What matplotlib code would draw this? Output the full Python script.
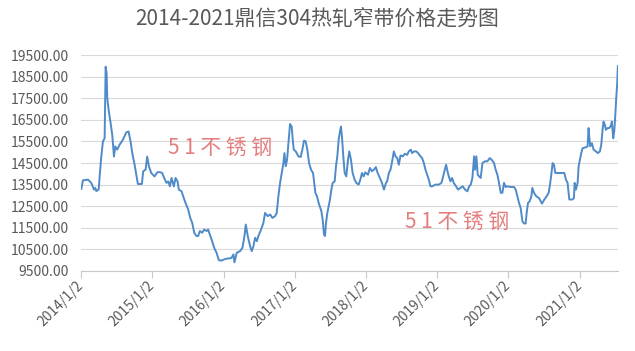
import matplotlib
matplotlib.use('Agg')
import matplotlib.pyplot as plt
import pandas as pd

plt.rcParams['font.family'] = ['Noto Sans CJK SC', 'DejaVu Sans']

# time in years since 2014/1/2, price in yuan/ton
years = [
    0.000, 0.024, 0.094, 0.141, 0.178, 0.197, 0.211, 0.244, 0.258, 0.281, 0.304, 0.328,
    0.342, 0.356, 0.365, 0.384, 0.412, 0.435, 0.459, 0.477, 0.505, 0.538, 0.585, 0.632,
    0.664, 0.692, 0.716, 0.749, 0.776, 0.795, 0.851, 0.870, 0.903, 0.926, 0.950, 0.982,
    1.029, 1.067, 1.104, 1.136, 1.164, 1.197, 1.221, 1.244, 1.268, 1.300, 1.324, 1.352,
    1.370, 1.408, 1.431, 1.464, 1.501, 1.530, 1.558, 1.586, 1.618, 1.642, 1.665, 1.698,
    1.726, 1.759, 1.782, 1.805, 1.838, 1.866, 1.899, 1.932, 1.969, 2.016, 2.063, 2.109,
    2.137, 2.151, 2.184, 2.231, 2.264, 2.292, 2.310, 2.338, 2.371, 2.394, 2.418, 2.441,
    2.465, 2.488, 2.525, 2.558, 2.581, 2.619, 2.652, 2.684, 2.722, 2.745, 2.768, 2.792,
    2.815, 2.839, 2.853, 2.871, 2.890, 2.918, 2.932, 2.955, 2.970, 2.984, 3.012, 3.049,
    3.082, 3.105, 3.128, 3.152, 3.175, 3.199, 3.227, 3.255, 3.288, 3.311, 3.334, 3.372,
    3.390, 3.409, 3.423, 3.437, 3.456, 3.475, 3.493, 3.512, 3.531, 3.559, 3.577, 3.596,
    3.615, 3.633, 3.647, 3.661, 3.680, 3.699, 3.722, 3.746, 3.764, 3.788, 3.811, 3.839,
    3.863, 3.895, 3.919, 3.942, 3.965, 3.989, 4.026, 4.054, 4.082, 4.110, 4.138, 4.162,
    4.194, 4.223, 4.251, 4.279, 4.296, 4.320, 4.343, 4.366, 4.390, 4.413, 4.437, 4.460,
    4.483, 4.516, 4.544, 4.577, 4.600, 4.628, 4.647, 4.675, 4.703, 4.731, 4.764, 4.787,
    4.811, 4.834, 4.857, 4.881, 4.904, 4.928, 4.974, 5.021, 5.058, 5.077, 5.105, 5.124,
    5.143, 5.161, 5.185, 5.208, 5.231, 5.264, 5.292, 5.325, 5.358, 5.390, 5.423, 5.447,
    5.470, 5.493, 5.517, 5.531, 5.549, 5.568, 5.587, 5.610, 5.634, 5.671, 5.704, 5.736,
    5.764, 5.797, 5.820, 5.844, 5.867, 5.891, 5.914, 5.937, 5.961, 5.984, 6.031, 6.078,
    6.101, 6.124, 6.148, 6.171, 6.195, 6.218, 6.241, 6.255, 6.274, 6.297, 6.321, 6.335,
    6.358, 6.391, 6.428, 6.470, 6.503, 6.536, 6.564, 6.583, 6.601, 6.620, 6.639, 6.657,
    6.713, 6.784, 6.807, 6.830, 6.854, 6.900, 6.919, 6.929, 6.947, 6.971, 6.985, 7.003,
    7.022, 7.041, 7.087, 7.111, 7.125, 7.134, 7.148, 7.172, 7.195, 7.228, 7.256, 7.284,
    7.303, 7.321, 7.335, 7.354, 7.368, 7.391, 7.415, 7.438, 7.452, 7.471, 7.485, 7.499,
    7.513, 7.527, 7.536,
]
prices = [
    13300, 13700, 13730, 13580, 13270, 13350, 13200, 13270, 13880, 14800, 15500, 15650,
    18960, 18650, 17500, 16960, 16350, 15800, 14800, 15270, 15120, 15350, 15580, 15920,
    15960, 15500, 14960, 14420, 13880, 13530, 13530, 14120, 14190, 14800, 14350, 14040,
    13880, 14070, 14080, 14040, 13810, 13580, 13650, 13420, 13810, 13420, 13810, 13650,
    13270, 13190, 12960, 12650, 12350, 11960, 11730, 11270, 11120, 11120, 11350, 11270,
    11420, 11350, 11420, 11190, 10880, 10580, 10350, 10000, 9980, 10050, 10080, 10100,
    10270, 9900, 10350, 10420, 10580, 11120, 11650, 11120, 10650, 10420, 10650, 11040,
    10880, 11120, 11420, 11730, 12190, 12040, 12120, 11960, 12040, 12190, 12960, 13580,
    14040, 14500, 14960, 14350, 14650, 15730, 16310, 16190, 15580, 15120, 15040, 14810,
    14780, 15120, 15540, 15500, 15120, 14500, 14190, 14040, 13120, 12960, 12650, 12270,
    11880, 11190, 11120, 11730, 12190, 12500, 12810, 13270, 13580, 13650, 14350, 14810,
    15580, 15960, 16190, 15730, 14810, 14040, 13880, 14650, 15040, 14650, 14040, 13730,
    13580, 13500, 13730, 14040, 13880, 14070, 13960, 14270, 14120, 14190, 14310, 14040,
    13810, 13580, 13270, 13580, 13650, 14040, 14190, 14580, 15040, 14810, 14730, 14420,
    14850, 14810, 14930, 14880, 15040, 15120, 14960, 15040, 15040, 14960, 14810, 14730,
    14500, 14190, 13960, 13730, 13420, 13420, 13500, 13500, 13580, 13810, 14190, 14420,
    14120, 13880, 13650, 13810, 13580, 13420, 13270, 13350, 13420, 13270, 13190, 13420,
    13500, 13810, 14810, 14190, 14810, 13960, 13880, 13810, 14500, 14580, 14580, 14730,
    14650, 14500, 14190, 13960, 13580, 13120, 13120, 13580, 13390, 13420, 13390, 13390,
    13270, 12960, 12650, 12420, 11810, 11700, 11700, 12190, 12650, 12730, 12960, 13350,
    13120, 12960, 12880, 12620, 12810, 12960, 13120, 13500, 13960, 14500, 14420, 14040,
    14040, 14040, 13730, 13580, 12810, 12810, 12880, 13580, 13270, 13580, 14350, 14650,
    14960, 15190, 15230, 15270, 16120, 15730, 15270, 15420, 15120, 15040, 14960, 15040,
    15350, 16040, 16420, 16270, 16040, 16120, 16120, 16230, 16420, 15650, 15960, 16650,
    17500, 18190, 18990,
]
tick_years = [2014, 2015, 2016, 2017, 2018, 2019, 2020, 2021]
y_ticks = [9500, 10500, 11500, 12500, 13500, 14500, 15500, 16500, 17500, 18500, 19500]

start = pd.Timestamp('2014-01-02')
dates = [start + pd.Timedelta(days=y * 365.25) for y in years]
tick_dates = [pd.Timestamp(f'{y}-01-02') for y in tick_years]

fig = plt.figure(figsize=(6.35, 3.51), dpi=100)
ax = fig.add_axes([0.128, 0.228, 0.845, 0.615])

ax.plot(dates, prices, color='#4f8ac9', linewidth=1.4)

ax.set_ylim(9500, 19500)
ax.set_xlim(start, dates[-1])
ax.set_yticks(y_ticks)
ax.set_yticklabels([f'{v:.2f}' for v in y_ticks])
ax.set_xticks(tick_dates)
ax.set_xticklabels([f'{d.year}/{d.month}/{d.day}' for d in tick_dates])
ax.xaxis.set_minor_locator(plt.NullLocator())

ax.grid(axis='y', color='#d9d9d9', linewidth=0.8)
ax.set_axisbelow(True)
for s in ['left', 'right', 'top']:
    ax.spines[s].set_visible(False)
ax.spines['bottom'].set_color('#c8c8c8')
ax.tick_params(axis='y', length=0, pad=9, labelsize=10, labelcolor='#595959')
ax.tick_params(axis='x', length=5, color='#c8c8c8', pad=4, labelsize=10, labelcolor='#595959')
for lbl in ax.get_xticklabels():
    lbl.set_rotation(45)
    lbl.set_ha('right')
    lbl.set_va('center')
    lbl.set_rotation_mode('anchor')

fig.text(0.5, 0.948, '2014-2021鼎信304热轧窄带价格走势图', ha='center', va='center',
         fontsize=15, color='#595959')

# watermarks
fig.text(0.347, 0.58, '5 1 不 锈 钢', ha='center', va='center', fontsize=15,
         color='#e06868', alpha=0.85)
fig.text(0.720, 0.368, '5 1 不 锈 钢', ha='center', va='center', fontsize=15,
         color='#e06868', alpha=0.85)

fig.savefig('out.png', dpi=100)
